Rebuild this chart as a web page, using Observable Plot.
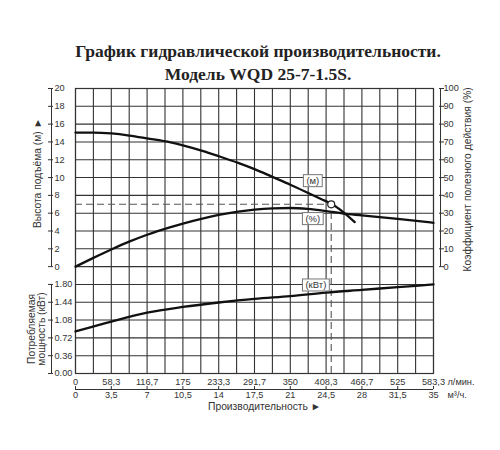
<!DOCTYPE html>
<html><head><meta charset="utf-8">
<script src="https://cdn.jsdelivr.net/npm/d3@7"></script>
<script src="https://cdn.jsdelivr.net/npm/@observablehq/plot@0.6"></script>
<style>
body{margin:0;background:#fff;}
#title{height:80px;box-sizing:border-box;padding-top:40px;padding-left:16px;text-align:center;font-family:"Liberation Serif","Times New Roman",serif;font-weight:bold;font-size:17.5px;line-height:23px;color:#222;white-space:nowrap;}
#chart{height:370px;}
</style></head><body>
<div id="title">График гидравлической производительности.<br>Модель WQD 25-7-1.5S.</div>
<div id="chart"></div>
<script>
// ---- tick labels ----
const flowTicks = [0, 3.5, 7, 10.5, 14, 17.5, 21, 24.5, 28, 31.5, 35];
const flowLpmLabels = ["0", "58,3", "116,7", "175", "233,3", "291,7", "350", "408,3", "466,7", "525", "583,3"];
const flowM3hLabels = ["0", "3,5", "7", "10,5", "14", "17,5", "21", "24,5", "28", "31,5", "35"];
const headTicks = [0, 2, 4, 6, 8, 10, 12, 14, 16, 18, 20];
const effTicks = [0, 10, 20, 30, 40, 50, 60, 70, 80, 90, 100];
const powerTicks = [0, 0.36, 0.72, 1.08, 1.44, 1.80];

// ---- series (flow in m³/h) ----
const headQ = [0, 1.75, 3.5, 5.25, 7, 9.3, 10.5, 12.4, 14, 15.9, 17.5, 19.3, 21, 22.7, 24, 25.1, 26.2, 27.3];
const headM = [15.05, 15.05, 14.95, 14.72, 14.4, 13.95, 13.62, 13.0, 12.4, 11.65, 10.95, 10.05, 9.2, 8.3, 7.6, 7.0, 6.1, 5.0];

const effQ = [0, 1.75, 3.5, 5.25, 7, 9.3, 10.5, 12.4, 14, 15.9, 17.5, 19.3, 21, 22.7, 24.5, 26.2, 28, 31.5, 35];
const effPct = [0, 4.9, 9.6, 14.0, 17.9, 22.2, 24.2, 27.0, 29.0, 30.9, 32.0, 32.7, 32.9, 32.4, 31.2, 29.8, 28.8, 26.8, 24.6];

const powQ = [0, 3.5, 7, 10.5, 14, 17.5, 21, 24.5, 28, 31.5, 35];
const powKW = [0.85, 1.05, 1.23, 1.345, 1.435, 1.51, 1.565, 1.635, 1.69, 1.745, 1.80];

// design point
const designQ = 25;
const designHead = 7;

// curve labels
const labelText = ["(м)", "(%)", "(кВт)"];
const labelQ = [23.2, 23.2, 23.5];
const labelKind = ["head", "eff", "pow"];
const labelValue = [9.6, 26.7, 1.78];

// ---- mapping onto the common 16-row grid ----
const headRow = h => 6 + h / 2;
const effRow = e => 6 + e / 10;
const powRow = p => p / 0.36;
const rowOf = {head: headRow, eff: effRow, pow: powRow};

const headData = headQ.map((q, i) => ({q, v: headM[i]}));
const effData = effQ.map((q, i) => ({q, v: effPct[i]}));
const powData = powQ.map((q, i) => ({q, v: powKW[i]}));
const labels = labelText.map((t, i) => ({t, q: labelQ[i], r: rowOf[labelKind[i]](labelValue[i])}));

const gridQ = d3.range(0, 35.001, 1.75);
const gridRows = d3.range(0, 17);

const ink = "#333";
const font = '"Liberation Sans", Arial, sans-serif';

const plot = Plot.plot({
  width: 500, height: 370,
  marginTop: 8, marginBottom: 77, marginLeft: 75, marginRight: 67,
  style: {fontFamily: font, fontSize: "9.2px", color: ink, background: "white", overflow: "visible"},
  x: {domain: [0, 35], axis: null},
  y: {domain: [0, 16], axis: null},
  marks: [
    Plot.ruleX(gridQ, {stroke: ink, strokeWidth: 1.1}),
    Plot.ruleY(gridRows, {stroke: ink, strokeWidth: 1.1}),
    Plot.frame({stroke: ink, strokeWidth: 1.2}),

    // left axis: head
    Plot.ruleX([flowTicks[0]], {y1: headRow(headTicks[0]), y2: headRow(headTicks[10]), dx: -24, stroke: ink, strokeWidth: 1}),
    Plot.axisY({ticks: headTicks.map(headRow), anchor: "left", label: null, tickSize: 5, dx: -22, tickFormat: () => "", stroke: ink}),
    Plot.text(headTicks, {frameAnchor: "left", y: headRow, text: d => String(d), dx: -21, textAnchor: "start", lineAnchor: "middle", fill: ink}),

    // left axis: power
    Plot.ruleX([flowTicks[0]], {y1: powRow(powerTicks[0]), y2: powRow(powerTicks[5]), dx: -24, stroke: ink, strokeWidth: 1}),
    Plot.axisY({ticks: powerTicks.map(powRow), anchor: "left", label: null, tickSize: 5, dx: -22, tickFormat: () => "", stroke: ink}),
    Plot.text(powerTicks, {frameAnchor: "left", y: powRow, text: d => d.toFixed(2), dx: -21, textAnchor: "start", lineAnchor: "middle", fill: ink}),

    // right axis: efficiency
    Plot.ruleX([flowTicks[10]], {y1: effRow(effTicks[0]), y2: effRow(effTicks[10]), dx: 7, stroke: ink, strokeWidth: 1}),
    Plot.axisY({ticks: effTicks.map(effRow), anchor: "right", label: null, tickSize: 5, dx: 5, tickFormat: () => "", stroke: ink}),
    Plot.text(effTicks, {frameAnchor: "right", y: effRow, text: d => String(d), dx: 10, textAnchor: "start", lineAnchor: "middle", fill: ink}),

    // bottom axis: flow
    Plot.ruleY([0], {x1: flowTicks[0], x2: flowTicks[10], dy: 16, stroke: ink, strokeWidth: 1}),
    Plot.axisX({ticks: flowTicks, anchor: "bottom", label: null, tickSize: 3, dy: 13, tickFormat: () => "", stroke: ink}),
    Plot.text(flowTicks, {x: d => d, frameAnchor: "bottom", text: (d, i) => flowLpmLabels[i], dy: 9, lineAnchor: "middle", fill: ink}),
    Plot.text(flowTicks, {x: d => d, frameAnchor: "bottom", text: (d, i) => flowM3hLabels[i], dy: 21.5, lineAnchor: "middle", fill: ink}),
    Plot.text(["л/мин."], {frameAnchor: "bottom-right", dx: 14, dy: 9, textAnchor: "start", lineAnchor: "middle", fill: ink}),
    Plot.text(["м³/ч."], {frameAnchor: "bottom-right", dx: 14, dy: 21.5, textAnchor: "start", lineAnchor: "middle", fill: ink}),

    // axis titles
    Plot.text(["Производительность ►"], {frameAnchor: "bottom", dx: 10, dy: 33, textAnchor: "middle", lineAnchor: "middle", fontSize: 10.3, fill: ink}),
    Plot.text(["Высота подъёма (м) ►"], {frameAnchor: "left", y: headRow(10.5), dx: -38, rotate: -90, textAnchor: "middle", lineAnchor: "middle", fontSize: 10.3, fill: ink}),
    Plot.text(["Потребляемая\nмощность (кВт)"], {frameAnchor: "left", y: powRow(0.9), dx: -39, rotate: -90, textAnchor: "middle", lineAnchor: "middle", fontSize: 10.3, lineHeight: 1.05, fill: ink}),
    Plot.text(["Коэффициент полезного действия (%)"], {frameAnchor: "right", y: effRow(49), dx: 34, rotate: -90, textAnchor: "middle", lineAnchor: "middle", fontSize: 10.3, fill: ink}),

    // design point guides
    Plot.ruleY([designHead], {y: headRow, x1: flowTicks[0], x2: designQ, stroke: "#555", strokeWidth: 1.1, strokeDasharray: "7,4"}),
    Plot.ruleX([designQ], {x: d => d, y1: powRow(powerTicks[0]), y2: headRow(designHead), stroke: "#555", strokeWidth: 1.1, strokeDasharray: "7,4"}),

    // curves
    Plot.line(headData, {x: "q", y: d => headRow(d.v), curve: "monotone-x", stroke: "#111", strokeWidth: 2.3}),
    Plot.line(effData, {x: "q", y: d => effRow(d.v), curve: "monotone-x", stroke: "#111", strokeWidth: 2.3}),
    Plot.line(powData, {x: "q", y: d => powRow(d.v), curve: "monotone-x", stroke: "#111", strokeWidth: 2.3}),

    Plot.dot([{q: designQ, h: designHead}], {x: "q", y: d => headRow(d.h), r: 3.5, fill: "white", stroke: "#222", strokeWidth: 1.2}),

    Plot.text(labels, {x: "q", y: "r", text: "t", fill: ink, fontSize: 9.5})
  ]
});
document.getElementById("chart").appendChild(plot);

// boxes behind curve labels
const svgNS = "http://www.w3.org/2000/svg";
plot.querySelectorAll("text").forEach(t => {
  if (labelText.includes(t.textContent)) {
    const b = t.getBBox();
    const r = document.createElementNS(svgNS, "rect");
    r.setAttribute("x", b.x - 3);
    r.setAttribute("y", b.y - 0.5);
    r.setAttribute("width", b.width + 6);
    r.setAttribute("height", b.height + 1);
    r.setAttribute("fill", "white");
    r.setAttribute("stroke", "#777");
    r.setAttribute("stroke-width", "1");
    const tr = t.getAttribute("transform");
    if (tr) r.setAttribute("transform", tr);
    t.parentNode.insertBefore(r, t);
  }
});
</script>
</body></html>
